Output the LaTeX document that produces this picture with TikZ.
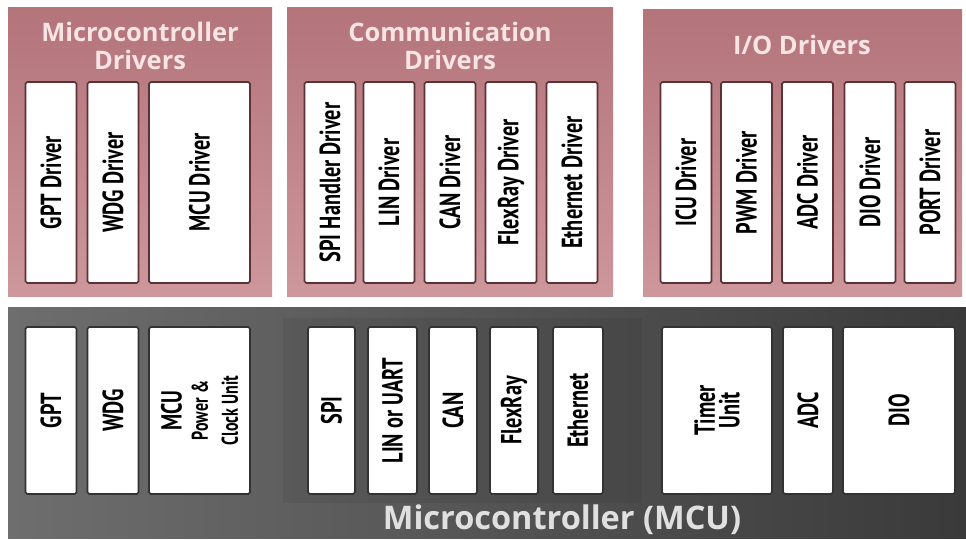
\documentclass[tikz,border=0pt]{standalone}
\usepackage{fontspec}
\setmainfont{Open Sans}
\newfontfamily\condfont[FakeStretch=0.7]{PT Sans}
\definecolor{panelrose}{HTML}{B3747A}
\definecolor{panelroselight}{HTML}{CD979C}
\definecolor{titlepink}{HTML}{F8E4E4}
\definecolor{drvedge}{HTML}{5C3236}
\definecolor{mcugraylight}{HTML}{6E6E6E}
\definecolor{mcugraydark}{HTML}{3A3A3A}
\begin{document}
\begin{tikzpicture}[
  x=0.02cm, y=-0.02cm,
  panel/.style={top color=panelrose, bottom color=panelroselight},
  title/.style={text=titlepink, align=center, font=\bfseries\fontsize{14.5}{15.5}\selectfont},
  drv/.style={draw=drvedge, line width=0.9pt, fill=white, rounded corners=1pt, rotate=90,
    minimum width=4.02cm, minimum height=1.02cm, inner sep=1pt, align=center,
    font=\condfont\bfseries\fontsize{16.5}{17}\selectfont},
  hw/.style={drv, draw=black!80, minimum width=3.34cm},
  wide/.style={minimum height=2.02cm}
]
\useasboundingbox (0,0) rectangle (966,540);
\fill[white] (0,0) rectangle (966,540);
\fill[panel] (8,8) rectangle (272,297);
\fill[panel] (287,8) rectangle (613,297);
\fill[panel] (643,10) rectangle (962,297);
\shade[left color=mcugraylight, right color=mcugraydark] (8,308) rectangle (966,538);
\fill[black, opacity=0.06] (283,318) rectangle (642,503);

\node[title] (mcutitle) at (140,46) {Microcontroller\\Drivers};
\node[title] (comtitle) at (450,46) {Communication\\Drivers};
\node[title] (iotitle) at (802,45) {I/O Drivers};

\node[drv] (gptdrv) at (51,182.5) {GPT Driver};
\node[drv] (wdgdrv) at (113,182.5) {WDG Driver};
\node[drv, wide] (mcudrv) at (199.5,182.5) {MCU Driver};
\node[drv] (spidrv) at (330,182.5) {SPI Handler Driver};
\node[drv] (lindrv) at (389,182.5) {LIN Driver};
\node[drv] (candrv) at (450,182.5) {CAN Driver};
\node[drv] (frdrv) at (511,182.5) {FlexRay Driver};
\node[drv] (ethdrv) at (572,182.5) {Ethernet Driver};
\node[drv] (icudrv) at (686,182.5) {ICU Driver};
\node[drv] (pwmdrv) at (746.5,182.5) {PWM Driver};
\node[drv] (adcdrv) at (807.5,182.5) {ADC Driver};
\node[drv] (diodrv) at (870,182.5) {DIO Driver};
\node[drv] (portdrv) at (930,182.5) {PORT Driver};

\node[hw] (gpt) at (51,410.5) {GPT};
\node[hw] (wdg) at (113,410.5) {WDG};
\node[hw, wide] (mcuunit) at (199.5,410.5) {MCU\\[-2pt]{\fontsize{13}{13.5}\selectfont Power \&}\\{\fontsize{13}{13.5}\selectfont Clock Unit}};
\node[hw, minimum height=0.94cm] (spi) at (331.5,410.5) {SPI};
\node[hw, minimum height=0.98cm] (lin) at (392.5,410.5) {LIN or UART};
\node[hw, minimum height=0.96cm] (can) at (453,410.5) {CAN};
\node[hw, minimum height=0.96cm] (flexray) at (514,410.5) {FlexRay};
\node[hw, minimum height=1.0cm] (eth) at (578,410.5) {Ethernet};
\node[hw, minimum height=2.2cm] (timer) at (717,410.5) {Timer\\[-3pt]Unit};
\node[hw, minimum height=1.0cm] (adc) at (808,410.5) {ADC};
\node[hw, minimum height=2.24cm] (dio) at (899,410.5) {DIO};

\node[text=white!88!black, font=\bfseries\fontsize{18.5}{20}\selectfont] (mcu) at (562,520) {Microcontroller (MCU)};
\end{tikzpicture}
\end{document}
